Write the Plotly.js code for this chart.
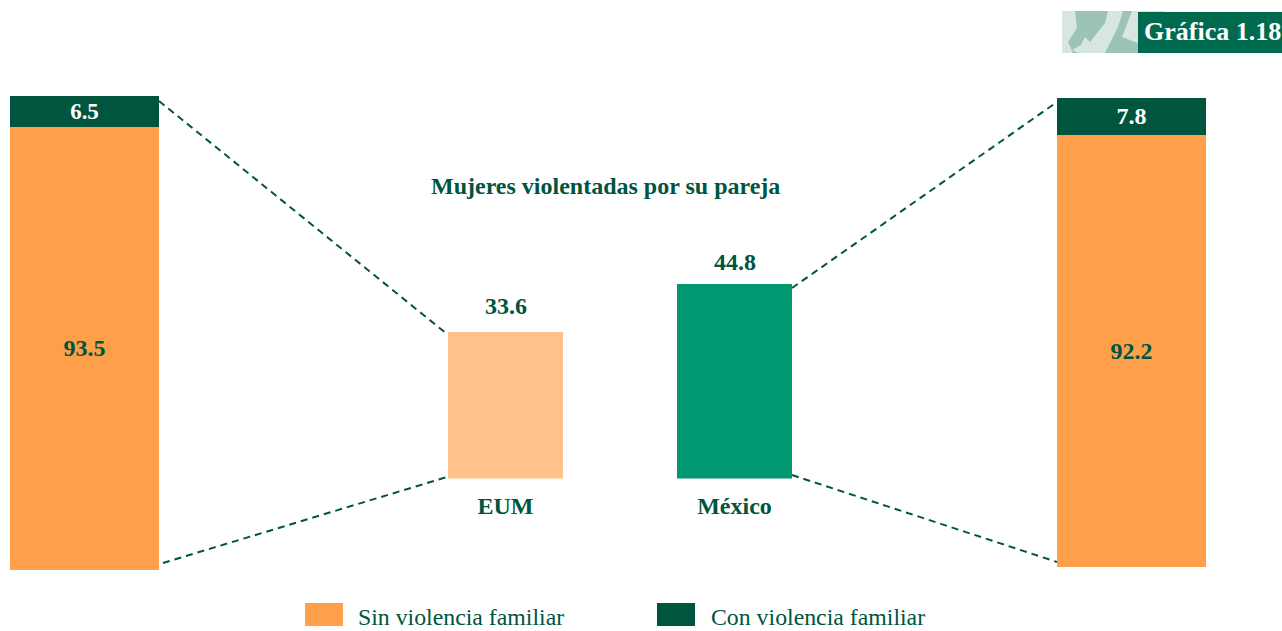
<!DOCTYPE html>
<html><head><meta charset="utf-8">
<script src="https://cdn.plot.ly/plotly-3.0.1.min.js"></script>
<style>html,body{margin:0;padding:0;background:#fff;overflow:hidden}</style>
</head><body><div id="chart" style="width:1282px;height:631px"></div>
<script>
const centerCategories = ["EUM", "México"];
const centerValues = [33.6, 44.8];
const centerColors = ["#FFC28A", "#009870"];
const sinViolencia = [93.5, 92.2];
const conViolencia = [6.5, 7.8];
const legendLabels = ["Sin violencia familiar", "Con violencia familiar"];
const chartTitle = "Mujeres violentadas por su pareja";
const badgeText = "Gráfica 1.18";

const W = 1282, H = 631;
const ORANGE = "#FF9F4A", DARK = "#00553F", TEXT = "#00553F", BADGE = "#006A4E";
const SERIF = "Liberation Serif, Times New Roman, serif";
const px = x => x / W, py = y => 1 - y / H;
const dom = (a, b) => [a / W, b / W];
const vdom = (top, bottom) => [1 - bottom / H, 1 - top / H];
const labelFont = {family: SERIF, size: 24, color: TEXT};
const whiteFont = {family: SERIF, size: 24, color: "#FFFFFF"};
const legendFont = {family: SERIF, size: 23.8, color: TEXT};
const b = s => "<b>" + s + "</b>";

function stack(i, xa, ya) {
  return [
    {type:"bar", x:[0], y:[sinViolencia[i]], xaxis:xa, yaxis:ya, width:1,
     marker:{color:ORANGE, line:{width:0}}, text:[b(sinViolencia[i].toFixed(1))],
     textposition:"inside", insidetextanchor:"middle", insidetextfont:labelFont,
     textangle:0, hoverinfo:"skip", showlegend:false},
    {type:"bar", x:[0], y:[conViolencia[i]], xaxis:xa, yaxis:ya, width:1,
     marker:{color:DARK, line:{width:0}}, text:[b(conViolencia[i].toFixed(1))],
     textposition:"inside", insidetextanchor:"middle", insidetextfont:whiteFont,
     textangle:0, hoverinfo:"skip", showlegend:false}
  ];
}
const hiddenAxis = extra => Object.assign({visible:false, fixedrange:true, showgrid:false, zeroline:false}, extra);

const traces = [
  ...stack(0, "x", "y"),
  ...stack(1, "x2", "y2"),
  {type:"bar", x:[0, 1], y:centerValues, xaxis:"x3", yaxis:"y3", width:115/229,
   marker:{color:centerColors, line:{width:0}}, cliponaxis:false,
   hoverinfo:"skip", showlegend:false}
];

const line = (x0, y0, x1, y1) => ({type:"line", xref:"paper", yref:"paper",
  x0:px(x0), y0:py(y0), x1:px(x1), y1:py(y1), line:{color:DARK, width:2, dash:"7px,5px"}});
const rect = (x0, y0, x1, y1, color) => ({type:"rect", xref:"paper", yref:"paper",
  x0:px(x0), y0:py(y0), x1:px(x1), y1:py(y1), fillcolor:color, line:{width:0}, layer:"below"});
const poly = (pts, color) => ({type:"path", xref:"paper", yref:"paper", fillcolor:color, line:{width:0}, layer:"below",
  path:"M" + pts.map(p => px(p[0]) + "," + py(p[1])).join(" L") + " Z"});
const note = (text, x, y, font, anchor) => ({text, xref:"paper", yref:"paper", x:px(x), y:py(y),
  xanchor:anchor || "center", yanchor:"middle", showarrow:false, font});
const barLabel = (i, shift) => ({text:b(centerValues[i].toFixed(1)), xref:"x3", yref:"y3", x:i, y:centerValues[i],
  xanchor:"center", yanchor:"middle", yshift:shift, showarrow:false, font:labelFont});

const layout = {
  width:W, height:H, margin:{l:0, r:0, t:0, b:0}, paper_bgcolor:"#fff", plot_bgcolor:"rgba(0,0,0,0)",
  barmode:"stack", showlegend:false, font:{family:SERIF},
  xaxis: hiddenAxis({domain:dom(10,159), range:[-0.5,0.5]}),
  yaxis: hiddenAxis({domain:vdom(96,570), range:[0,100], anchor:"x"}),
  xaxis2: hiddenAxis({domain:dom(1057,1206), range:[-0.5,0.5], anchor:"y2"}),
  yaxis2: hiddenAxis({domain:vdom(98,567), range:[0,100], anchor:"x2"}),
  xaxis3: {domain:dom(391,849), range:[-0.5,1.5], anchor:"y3", tickmode:"array", tickvals:[0,1],
    ticktext:centerCategories.map(b), tickfont:labelFont, ticks:"outside", ticklen:6,
    tickcolor:"rgba(0,0,0,0)", showline:false, showgrid:false, zeroline:false, fixedrange:true},
  yaxis3: hiddenAxis({domain:vdom(200,478.5), range:[0,278.5/4.35], anchor:"x3"}),
  shapes:[
    line(159,101,447,334), line(163,563,447,477), line(792,288,1057,102), line(792,475,1057,562),
    rect(1062,11,1138,53,"#D8E6E1"), rect(1138,11,1165,12,"#D8E6E1"),
    poly([[1075,11],[1108,11],[1105,23],[1090,42],[1085,37],[1081,45],[1072,50],[1078,53],[1073,53],[1068,42],[1077,28]],"#9CC3B5"),
    poly([[1123,11],[1132,11],[1122,37],[1138,43],[1138,53],[1105,53],[1118,27]],"#9CC3B5"),
    rect(1138,12,1282,53,BADGE),
    rect(305,603,343,626,ORANGE), rect(657,603,695,626,DARK)
  ],
  annotations:[
    barLabel(0, 26), barLabel(1, 22),
    note(b(chartTitle), 605.5, 186, labelFont),
    note(b(badgeText), 1212, 31, {family:SERIF, size:26, color:"#FFFFFF"}),
    note(legendLabels[0], 356, 617, legendFont, "left"),
    note(legendLabels[1], 709, 617, legendFont, "left")
  ]
};
Plotly.newPlot("chart", traces, layout, {staticPlot:true, displayModeBar:false});
</script></body></html>
